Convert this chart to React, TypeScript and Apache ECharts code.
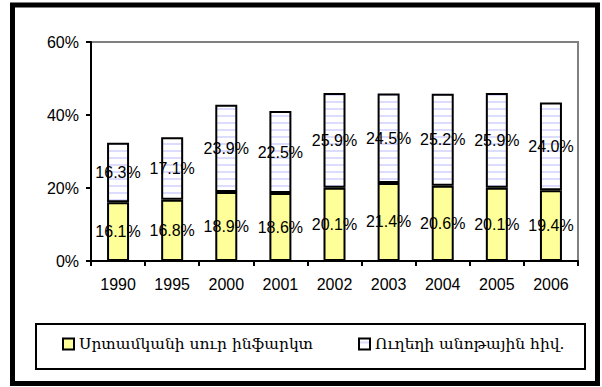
import React, { useEffect, useRef } from "react";
import * as echarts from "echarts";

const categories = ["1990", "1995", "2000", "2001", "2002", "2003", "2004", "2005", "2006"];
const infarction = [16.1, 16.8, 18.9, 18.6, 20.1, 21.4, 20.6, 20.1, 19.4];
const cerebro = [16.3, 17.1, 23.9, 22.5, 25.9, 24.5, 25.2, 25.9, 24.0];
const seriesNames = ["Սրտամկանի սուր ինֆարկտ", "Ուղեղի անոթային հիվ."];
const yTicks = { min: 0, max: 60, interval: 20 };

function makeStripe(): string {
  const c = document.createElement("canvas");
  c.width = 8;
  c.height = 7;
  const ctx = c.getContext("2d")!;
  ctx.fillStyle = "#ffffff";
  ctx.fillRect(0, 0, 8, 7);
  ctx.fillStyle = "#dcdcff";
  ctx.fillRect(0, 3, 8, 2);
  return c.toDataURL();
}

export default function App() {
  const ref = useRef<HTMLDivElement>(null);
  useEffect(() => {
    if (!ref.current) return;
    const chart = echarts.init(ref.current, null, { renderer: "svg" });
    const stripe = { image: makeStripe(), repeat: "repeat" } as any;
    const font = "Liberation Sans, Arial, sans-serif";
    const label = {
      show: true,
      position: "inside",
      color: "#000",
      fontSize: 16,
      fontFamily: font,
      formatter: (p: any) => Number(p.value).toFixed(1) + "%",
    };
    const legendText = { color: "#000", fontSize: 15.5, fontFamily: "DejaVu Serif, serif" };
    chart.setOption({
      animation: false,
      backgroundColor: "#fff",
      grid: {
        left: 91,
        top: 42,
        right: 24,
        bottom: 126,
        show: true,
        borderColor: "#808080",
        borderWidth: 2,
      },
      xAxis: {
        type: "category",
        data: categories,
        axisLine: { lineStyle: { color: "#000", width: 2 } },
        axisTick: { show: true, length: 5, lineStyle: { color: "#000", width: 2 } },
        axisLabel: { color: "#000", fontSize: 16, fontFamily: font, margin: 15 },
      },
      yAxis: {
        type: "value",
        min: yTicks.min,
        max: yTicks.max,
        interval: yTicks.interval,
        axisLine: { show: true, lineStyle: { color: "#000", width: 2 } },
        axisTick: { show: true, length: 5, lineStyle: { color: "#000", width: 2 } },
        splitLine: { show: false },
        axisLabel: { color: "#000", fontSize: 16, fontFamily: font, margin: 12, formatter: "{value}%" },
      },
      legend: [
        {
          data: [seriesNames[0]],
          left: 62,
          top: 336,
          padding: 0,
          icon: "rect",
          itemWidth: 11,
          itemHeight: 11,
          itemStyle: { borderColor: "#000", borderWidth: 2 },
          textStyle: legendText,
        },
        {
          data: [seriesNames[1]],
          left: 358,
          top: 336,
          padding: 0,
          icon: "rect",
          itemWidth: 11,
          itemHeight: 11,
          itemStyle: { borderColor: "#000", borderWidth: 2 },
          textStyle: legendText,
        },
      ],
      graphic: [
        {
          type: "rect",
          shape: { x: 12.5, y: 5, width: 585, height: 378.5 },
          style: { fill: "none", stroke: "#000", lineWidth: 5 },
          silent: true,
        },
        {
          type: "rect",
          shape: { x: 36, y: 324, width: 549, height: 45 },
          style: { fill: "none", stroke: "#000", lineWidth: 2 },
          silent: true,
        },
      ],
      series: [
        {
          name: seriesNames[0],
          type: "bar",
          stack: "total",
          barWidth: 22,
          data: infarction,
          itemStyle: { color: "#ffff99", borderColor: "#000", borderWidth: 2 },
          label,
        },
        {
          name: seriesNames[1],
          type: "bar",
          stack: "total",
          barWidth: 22,
          data: cerebro,
          itemStyle: { color: stripe, borderColor: "#000", borderWidth: 2 },
          label,
        },
      ],
    });
    return () => chart.dispose();
  }, []);
  return (
    <div
      ref={ref}
      style={{ position: "fixed", left: 0, top: 0, width: 602, height: 387, background: "#fff" }}
    />
  );
}
